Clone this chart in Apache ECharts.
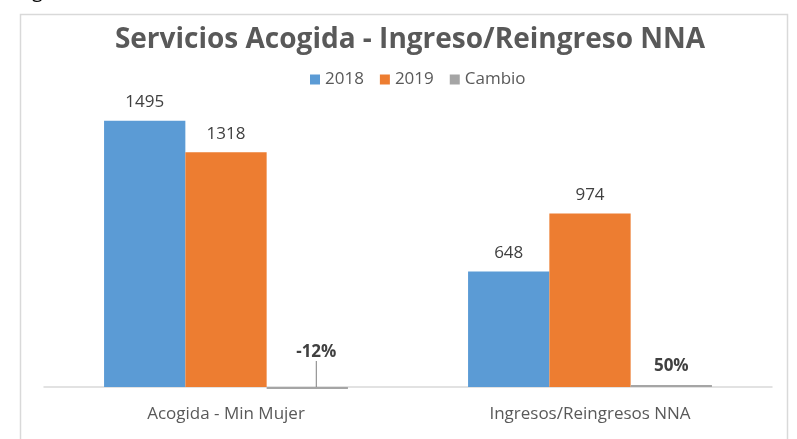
<!DOCTYPE html>
<html>
<head>
<meta charset="utf-8">
<script src="https://cdn.jsdelivr.net/npm/echarts@6/dist/echarts.min.js"></script>
<style>
    html, body {margin: 0; padding: 0; background: #fff;}
    #chart {width: 797px; height: 439px;}
</style>
</head>
<body>
<div id="chart"></div>
<script>
    var categories = ['Acogida - Min Mujer', 'Ingresos/Reingresos NNA'];
    var values2018 = [1495, 648];
    var values2019 = [1318, 974];
    var cambio = [-0.12, 0.5];

    var font = 'Open Sans';
    var valueLabel = {
        show: true,
        position: 'top',
        distance: 10,
        fontFamily: font,
        fontSize: 17,
        color: '#404040'
    };

    var chart = echarts.init(document.getElementById('chart'));
    var option = {
        backgroundColor: '#fff',
        animation: false,
        title: {
            text: 'Servicios Acogida - Ingreso/Reingreso NNA',
            left: 405,
            textAlign: 'center',
            top: 21,
            textStyle: {fontFamily: font, fontSize: 28, fontWeight: 'bold', color: '#595959'}
        },
        legend: {
            data: ['2018', '2019', 'Cambio'],
            top: 66,
            left: 305,
            itemWidth: 10,
            itemHeight: 10,
            itemGap: 16,
            icon: 'rect',
            textStyle: {fontFamily: font, fontSize: 17, color: '#595959'}
        },
        graphic: [{
            type: 'rect',
            shape: {x: 20.5, y: 14.5, width: 767, height: 440},
            style: {fill: 'none', stroke: '#d9d9d9', lineWidth: 1.5},
            silent: true
        }, {
            type: 'text',
            left: 32,
            top: -19,
            style: {text: 'g', fontFamily: font, fontSize: 20, fill: '#000'}
        }],
        grid: {left: 44, right: 25, top: 102, bottom: 52},
        xAxis: {
            type: 'category',
            data: categories,
            axisLine: {lineStyle: {color: '#d9d9d9', width: 1.5}},
            axisTick: {show: false},
            axisLabel: {fontFamily: font, fontSize: 17, color: '#595959', margin: 19}
        },
        yAxis: {
            type: 'value',
            min: 0,
            max: 1600,
            show: false,
            splitLine: {show: false}
        },
        series: [{
            name: '2018',
            type: 'bar',
            data: values2018,
            barGap: '0%',
            barCategoryGap: '33%',
            itemStyle: {color: '#5B9BD5'},
            label: valueLabel
        }, {
            name: '2019',
            type: 'bar',
            data: values2019,
            itemStyle: {color: '#ED7D31'},
            label: valueLabel
        }, {
            name: 'Cambio',
            type: 'bar',
            data: [{
                value: cambio[0],
                labelLine: {show: true, lineStyle: {color: '#7f7f7f', width: 1}}
            }, {
                value: cambio[1],
                labelLine: {show: false}
            }],
            clip: false,
            barMinHeight: 2,
            itemStyle: {color: '#A5A5A5'},
            label: {
                show: true,
                position: 'top',
                distance: 10,
                fontFamily: font,
                fontSize: 17,
                fontWeight: 'bold',
                color: '#404040',
                formatter: function (p) {
                    return Math.round(p.value * 100) + '%';
                }
            },
            labelLayout: function (params) {
                if (params.dataIndex === 0) {
                    return {dx: 9, dy: -16};
                }
                return {};
            }
        }]
    };
    chart.setOption(option);
</script>
</body>
</html>
